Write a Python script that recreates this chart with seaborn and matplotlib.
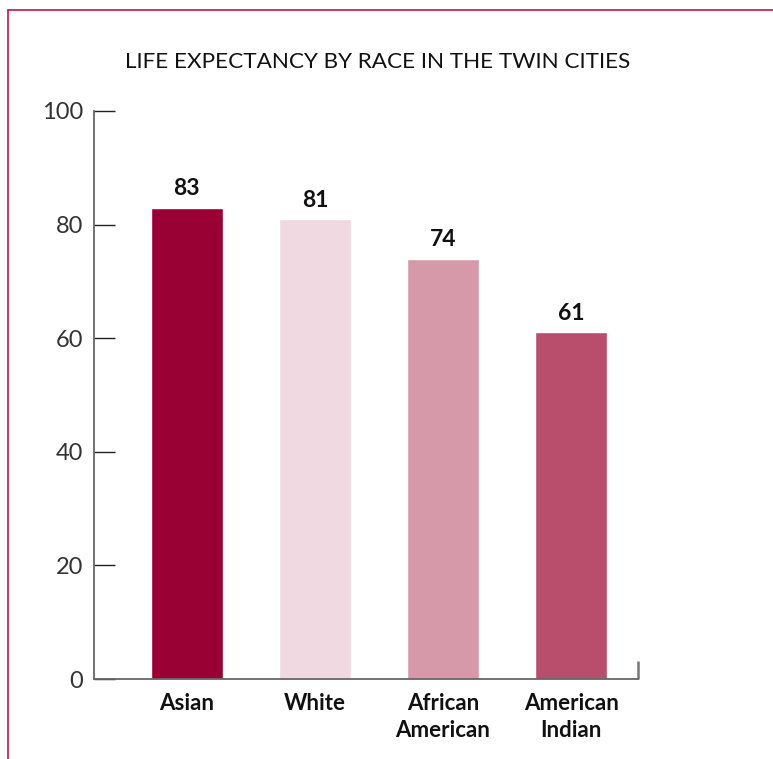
import matplotlib
matplotlib.use("Agg")
import matplotlib.pyplot as plt
import pandas as pd
import seaborn as sns
from matplotlib.lines import Line2D


TITLE = "LIFE EXPECTANCY BY RACE IN THE TWIN CITIES"
RACES = ["Asian", "White", "African\nAmerican", "American\nIndian"]
LIFE_EXPECTANCY = [83, 81, 74, 61]
BAR_COLORS = ["#990033", "#f0d9e1", "#d699aa", "#b84d6c"]
Y_TICKS = [0, 20, 40, 60, 80, 100]

FONT = ["Lato", "DejaVu Sans"]


def main() -> None:
    sns.set_theme(style="white")
    plt.rcParams["font.family"] = FONT

    df = pd.DataFrame({"Race": RACES, "Years": LIFE_EXPECTANCY})

    fig = plt.figure(figsize=(7.73, 7.59), dpi=100)
    ax = fig.add_axes([0.1216, 0.1054, 0.7034, 0.7484])

    sns.barplot(
        data=df, x="Race", y="Years", hue="Race", palette=BAR_COLORS,
        width=0.56, saturation=1, legend=False, ax=ax,
    )

    for container in ax.containers:
        ax.bar_label(container, fmt="%d", padding=6, fontsize=16.5, fontweight="bold", color="#111111")

    ax.set_xlim(-0.725, 3.51)
    ax.set_ylim(0, 100)
    ax.set_yticks(Y_TICKS)
    ax.set_xlabel("")
    ax.set_ylabel("")

    for side in ("top", "right"):
        ax.spines[side].set_visible(False)
    for side in ("left", "bottom"):
        ax.spines[side].set_color("#666666")
        ax.spines[side].set_linewidth(1.3)

    ax.tick_params(axis="y", direction="in", length=15, width=1.0, color="#222222",
                   labelsize=17, labelcolor="#333333", pad=8, left=True)
    ax.tick_params(axis="x", length=0, labelsize=16, labelcolor="#111111", pad=10)
    for label in ax.get_xticklabels():
        label.set_fontweight("bold")
        label.set_linespacing(1.35)

    # small upright tick closing the x axis on the right
    ax.set_xticks([3.52], minor=True)
    ax.tick_params(axis="x", which="minor", direction="in", length=13, width=1.8,
                   color="#777777", bottom=True)

    fig.text(0.489, 0.918, TITLE, ha="center", va="center", fontsize=16.2, color="#111111")

    # crimson frame lines on top and left
    fig.add_artist(Line2D([0.0104, 1.0], [0.9868, 0.9868], transform=fig.transFigure,
                          color="#c0174a", linewidth=1.2))
    fig.add_artist(Line2D([0.0104, 0.0104], [0.0, 0.9868], transform=fig.transFigure,
                          color="#c0174a", linewidth=1.2))

    fig.savefig("out.png", dpi=100)
    plt.close(fig)


if __name__ == "__main__":
    main()
